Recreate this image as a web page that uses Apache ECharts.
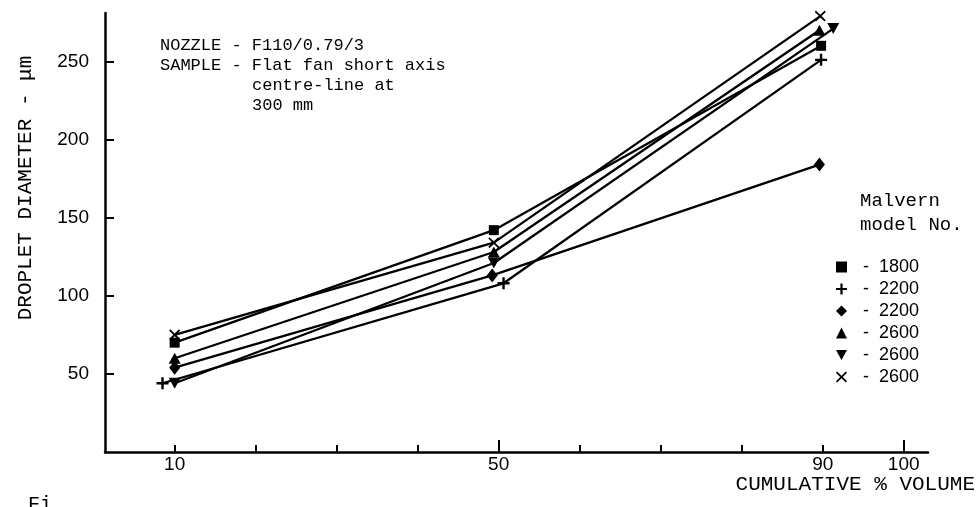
<!DOCTYPE html>
<html>
<head>
<meta charset="utf-8">
<script src="https://cdn.jsdelivr.net/npm/echarts@6/dist/echarts.min.js"></script>
<style>
html,body{margin:0;padding:0;background:#fff;}
#chart{width:980px;height:507px;}
</style>
</head>
<body>
<div id="chart"></div>
<script>
// ---- data ----
const xTickValues = [10, 20, 30, 40, 50, 60, 70, 80, 90, 100];
const xLabelValues = [10, 50, 90, 100];
const yTickValues = [50, 100, 150, 200, 250];

const seriesNames = ['s1800', 's2200a', 's2200b', 's2600a', 's2600b', 's2600c'];
const modelLabels = ['1800', '2200', '2200', '2600', '2600', '2600'];

const x1800  = [10, 49.4, 89.8];
const y1800  = [70, 142, 260];
const x2200a = [8.5, 50.6, 89.8];
const y2200a = [44, 108, 251];
const x2200b = [10, 49.2, 89.6];
const y2200b = [54, 113, 184];
const x2600a = [10, 49.4, 89.6];
const y2600a = [60, 128, 270];
const x2600b = [10, 49.4, 91.3];
const y2600b = [44, 121, 271];
const x2600c = [10, 49.4, 89.7];
const y2600c = [75, 134, 279];

const xs = [x1800, x2200a, x2200b, x2600a, x2600b, x2600c];
const ys = [y1800, y2200a, y2200b, y2600a, y2600b, y2600c];

const symbols = [
  'rect',
  'path://M4,0H6V4H10V6H6V10H4V6H0V4H4Z',
  'diamond',
  'triangle',
  'path://M0,0H10L5,9Z',
  'path://M1,0L5,3.8L9,0L10,1.2L6.2,5L10,8.8L9,10L5,6.2L1,10L0,8.8L3.8,5L0,1.2Z'
];
const symbolSizes = [[10, 10], [12, 12], [11, 14], [12, 11], [12, 11], [11, 11]];

const mono = '"Liberation Mono", "DejaVu Sans Mono", monospace';
const sans = '"Liberation Sans", Arial, sans-serif';

const chart = echarts.init(document.getElementById('chart'), null, {renderer: 'canvas'});

const series = seriesNames.map((n, i) => ({
  name: n,
  type: 'line',
  data: xs[i].map((x, j) => [x, ys[i][j]]),
  symbol: symbols[i],
  symbolSize: symbolSizes[i],
  showAllSymbol: true,
  lineStyle: {color: '#000', width: 2.3},
  itemStyle: {color: '#000', borderWidth: 0},
  emphasis: {disabled: true},
  animation: false,
  z: 3
}));

const option = {
  animation: false,
  backgroundColor: '#fff',
  grid: {left: 105, top: 13, right: 52, bottom: 55, containLabel: false},
  xAxis: [{
    type: 'value',
    min: 1.4, max: 103,
    position: 'bottom',
    splitLine: {show: false},
    axisLine: {show: true, onZero: false, lineStyle: {color: '#000', width: 2.5}},
    axisTick: {show: true, inside: true, length: 7, customValues: xTickValues, lineStyle: {color: '#000', width: 2}},
    axisLabel: {show: true, customValues: xLabelValues, color: '#000', fontFamily: sans, fontSize: 19, margin: 3}
  }, {
    type: 'value',
    min: 1.4, max: 103,
    position: 'bottom',
    splitLine: {show: false},
    axisLine: {show: false},
    axisTick: {show: true, inside: true, length: 12, customValues: [50, 100], lineStyle: {color: '#000', width: 2}},
    axisLabel: {show: false}
  }],
  yAxis: {
    type: 'value',
    min: 0, max: 281,
    splitLine: {show: false},
    axisLine: {show: true, onZero: false, lineStyle: {color: '#000', width: 2.5}},
    axisTick: {show: true, inside: true, length: 9, customValues: yTickValues, lineStyle: {color: '#000', width: 2}},
    axisLabel: {show: true, customValues: yTickValues, color: '#000', fontFamily: sans, fontSize: 19, margin: 16}
  },
  legend: {
    orient: 'vertical',
    left: 836, top: 258,
    padding: 0,
    itemWidth: 11, itemHeight: 11,
    itemGap: 4,
    data: seriesNames.map((n, i) => ({name: n, icon: symbols[i]})),
    selectedMode: false,
    formatter: (name) => '-  ' + modelLabels[seriesNames.indexOf(name)],
    textStyle: {color: '#000', fontFamily: sans, fontSize: 18, padding: [0, 0, 0, 11]},
    itemStyle: {color: '#000'},
    lineStyle: {width: 0}
  },
  graphic: [
    {type: 'text', left: 160, top: 37, style: {text: 'NOZZLE - F110/0.79/3', font: '17px ' + mono, fill: '#000'}},
    {type: 'text', left: 160, top: 57, style: {text: 'SAMPLE - Flat fan short axis', font: '17px ' + mono, fill: '#000'}},
    {type: 'text', left: 252, top: 77, style: {text: 'centre-line at', font: '17px ' + mono, fill: '#000'}},
    {type: 'text', left: 252, top: 97, style: {text: '300 mm', font: '17px ' + mono, fill: '#000'}},
    {type: 'text', left: 860, top: 191, style: {text: 'Malvern', font: '19px ' + mono, fill: '#000'}},
    {type: 'text', left: 860, top: 215, style: {text: 'model No.', font: '19px ' + mono, fill: '#000'}},
    {type: 'text', right: 5, top: 474, style: {text: 'CUMULATIVE % VOLUME', font: '21px ' + mono, fill: '#000'}},
    {type: 'text', x: 25, y: 188, rotation: Math.PI / 2, style: {text: 'DROPLET DIAMETER - μm', font: '21px ' + mono, fill: '#000', align: 'center', verticalAlign: 'middle'}},
    {type: 'text', left: 28, top: 495, style: {text: 'Fi', font: '20px ' + mono, fill: '#000'}}
  ],
  series: series
};
chart.setOption(option);
</script>
</body>
</html>
